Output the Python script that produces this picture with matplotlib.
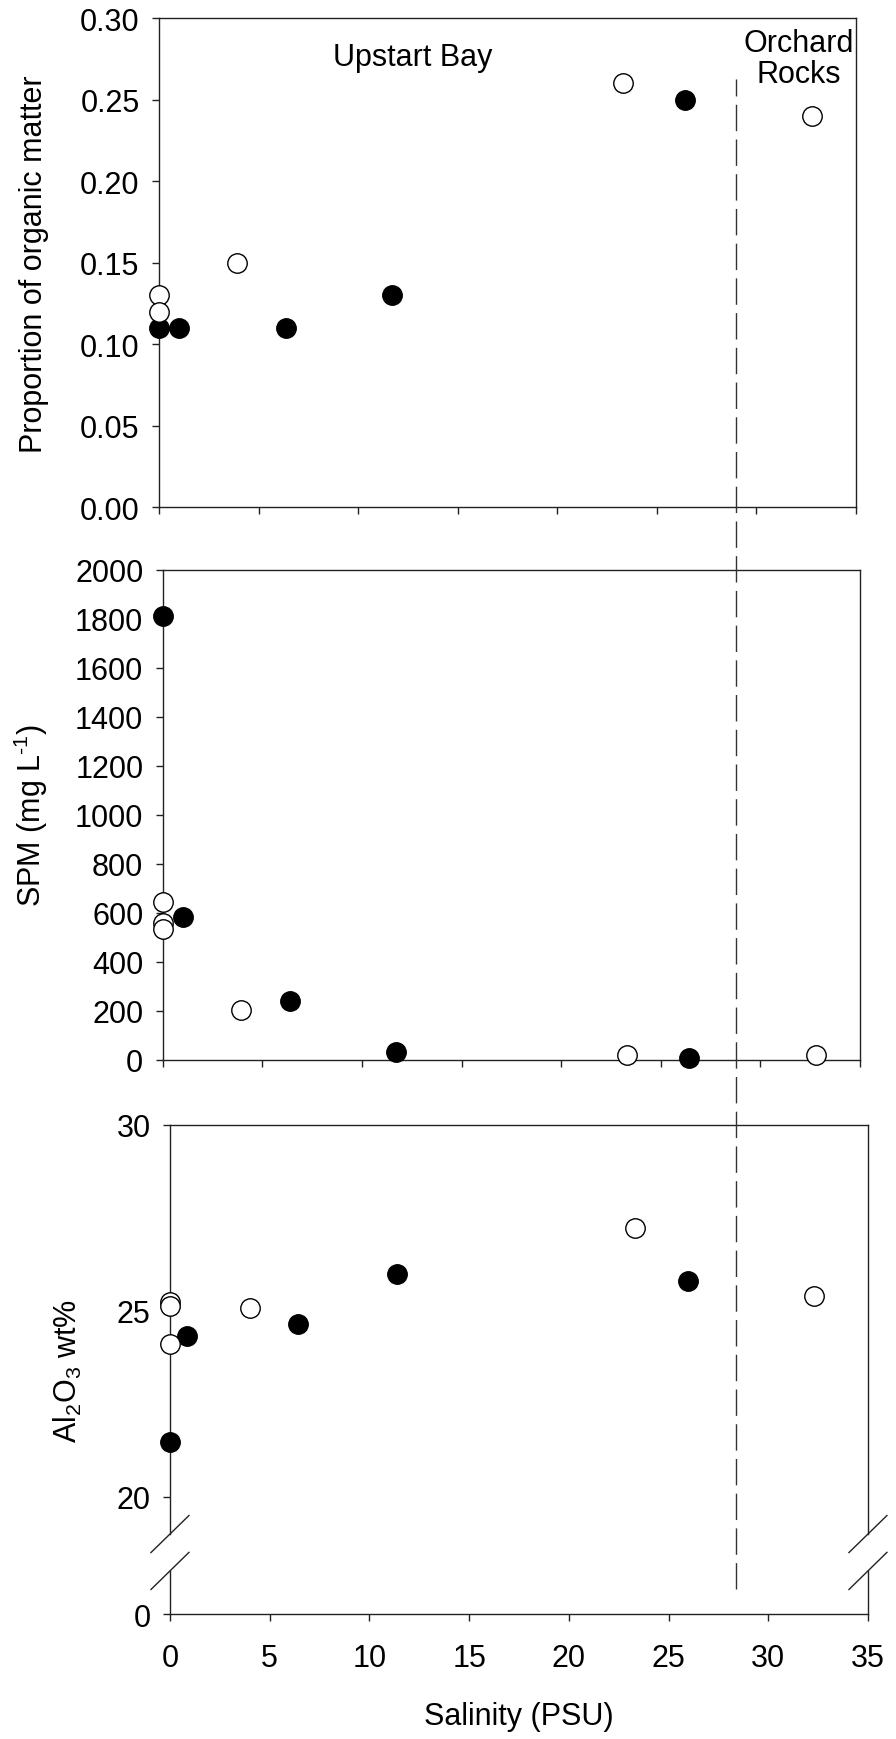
import matplotlib
matplotlib.use("Agg")
import matplotlib.pyplot as plt
import matplotlib.transforms as mtransforms
from matplotlib.lines import Line2D
from matplotlib.ticker import FormatStrFormatter, MultipleLocator

plt.rcParams['font.family'] = ['Liberation Sans', 'DejaVu Sans']
plt.rcParams['mathtext.fontset'] = 'custom'
plt.rcParams['mathtext.rm'] = 'Liberation Sans'
plt.rcParams['mathtext.it'] = 'Liberation Sans:italic'
plt.rcParams['mathtext.bf'] = 'Liberation Sans:bold'
plt.rcParams['font.size'] = 22

# proportion of organic matter
om_open_x = [0, 0, 3.9, 23.3, 32.8]
om_open_y = [0.13, 0.12, 0.15, 0.26, 0.24]
om_fill_x = [0, 1.0, 6.4, 11.7, 26.4]
om_fill_y = [0.11, 0.11, 0.11, 0.13, 0.25]

# suspended particulate matter (mg/L)
spm_open_x = [0, 0, 0, 3.95, 23.3, 32.8]
spm_open_y = [645, 558, 531, 201, 19, 19]
spm_fill_x = [0, 1.0, 6.4, 11.7, 26.4]
spm_fill_y = [1812, 581, 237, 31, 8]

# Al2O3 wt%
al_open_x = [0, 0, 0, 4.0, 23.3, 32.3]
al_open_y = [25.23, 25.13, 24.11, 25.07, 27.21, 25.40]
al_fill_x = [0, 0.84, 6.4, 11.4, 26.0]
al_fill_y = [21.46, 24.32, 24.64, 25.99, 25.79]

site_boundary = 28.4   # salinity of the Upstart Bay / Orchard Rocks split
x_ticks = [0, 5, 10, 15, 20, 25, 30, 35]


def style_axis(ax):
    """Common frame and tick styling."""
    for sp in ax.spines.values():
        sp.set_linewidth(1.0)
        sp.set_color('#222222')
    ax.tick_params(direction='out', length=5, width=1.0, color='#222222')
    ax.tick_params(axis='y', pad=9)
    ax.tick_params(axis='x', pad=16)
    ax.set_xlim(0, 35)
    ax.set_xticks(x_ticks)


def scatter_pair(ax, fx, fy, ox, oy):
    ax.plot(fx, fy, 'o', ms=14, mfc='black', mec='black', mew=1.0,
            clip_on=False, zorder=3)
    ax.plot(ox, oy, 'o', ms=14, mfc='white', mec='black', mew=1.0,
            clip_on=False, zorder=4)


fig = plt.figure(figsize=(8.96, 17.4), dpi=100)

ax1 = fig.add_axes([0.1775, 0.708, 0.7779, 0.2809])
ax2 = fig.add_axes([0.1816, 0.3905, 0.7782, 0.2815])
ax3 = fig.add_axes([0.1897, 0.1178, 0.779, 0.2353])
ax4 = fig.add_axes([0.1897, 0.0718, 0.779, 0.0248])

# top panel
style_axis(ax1)
scatter_pair(ax1, om_fill_x, om_fill_y, om_open_x, om_open_y)
ax1.set_ylim(0, 0.30)
ax1.yaxis.set_major_locator(MultipleLocator(0.05))
ax1.yaxis.set_major_formatter(FormatStrFormatter('%.2f'))
ax1.set_xticklabels([])
ax1.set_ylabel('Proportion of organic matter')
ax1.yaxis.set_label_coords(-0.1585, 0.5)
ax1.text(12.75, 0.276, 'Upstart Bay', ha='center', va='center')
ax1.text(32.1, 0.2753, 'Orchard\nRocks', ha='center', va='center',
         linespacing=1.05)

# middle panel
style_axis(ax2)
scatter_pair(ax2, spm_fill_x, spm_fill_y, spm_open_x, spm_open_y)
ax2.set_ylim(0, 2000)
ax2.yaxis.set_major_locator(MultipleLocator(200))
ax2.set_xticklabels([])
ax2.set_ylabel(r'SPM (mg L$^{\text{-1}}$)')
ax2.yaxis.set_label_coords(-0.1615, 0.5)

# bottom panel, broken y axis
style_axis(ax3)
scatter_pair(ax3, al_fill_x, al_fill_y, al_open_x, al_open_y)
ax3.set_ylim(19.0, 30)
ax3.set_yticks([20, 25, 30])
ax3.spines['bottom'].set_visible(False)
ax3.tick_params(axis='x', bottom=False, labelbottom=False)
ax3.set_ylabel(r'Al$\mathregular{_2}$O$\mathregular{_3}$ wt%')
ax3.yaxis.set_label_coords(-0.123, 0.40)

style_axis(ax4)
ax4.set_ylim(0, 1.16)
ax4.set_yticks([0])
ax4.spines['top'].set_visible(False)
ax4.set_xlabel('Salinity (PSU)', labelpad=20)

# break marks
kw = dict(color='#222222', lw=1.0, clip_on=False)
dx, dy3, dy4 = 0.0272, 0.0452, 0.43
for xa in (0, 1):
    ax3.plot([xa - dx, xa + dx], [-dy3, dy3], transform=ax3.transAxes, **kw)
    ax4.plot([xa - dx, xa + dx], [1 - dy4, 1 + dy4], transform=ax4.transAxes, **kw)

# dashed site boundary spanning all panels
trans = mtransforms.blended_transform_factory(ax3.transData, fig.transFigure)
fig.add_artist(Line2D([site_boundary, site_boundary], [0.0862, 0.954],
                      transform=trans, color='#333333', lw=1.0,
                      linestyle=(0, (19, 6))))

fig.savefig('out.png', dpi=100)
